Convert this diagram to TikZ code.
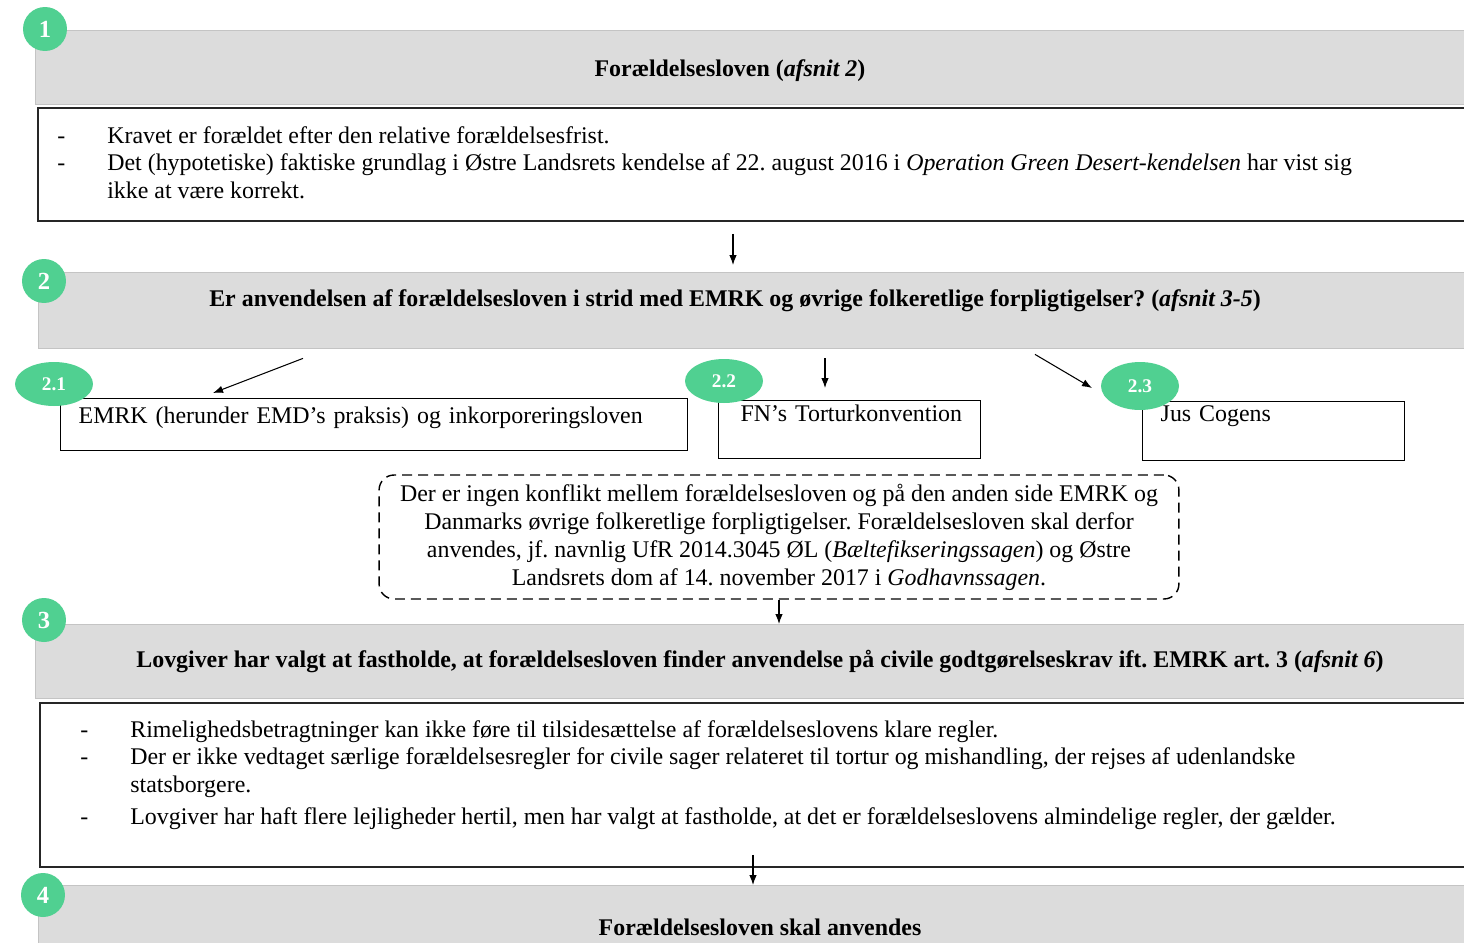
\documentclass[tikz,border=0pt]{standalone}
\usepackage{fontspec}
\setmainfont{Liberation Serif}
\frenchspacing
\usetikzlibrary{arrows.meta,positioning,shapes.geometric}
\definecolor{badgegreen}{RGB}{80,208,145}
\definecolor{headgray}{RGB}{220,220,220}
\definecolor{headline}{RGB}{196,196,196}

\begin{document}
\begin{tikzpicture}[x=0.02cm,y=-0.02cm,>=Latex,
  every node/.style={font=\fontsize{13.6}{15.9}\selectfont},
  head/.style={draw=headline,line width=0.8pt,fill=headgray,anchor=north west,inner sep=0pt},
  htitle/.style={font=\fontsize{13.6}{15.9}\selectfont\bfseries,inner sep=0pt},
  body/.style={draw=black!85,line width=1.1pt,fill=white,anchor=north west,inner sep=0pt},
  items/.style={anchor=base west,inner sep=0pt},
  subbox/.style={draw=black,line width=0.8pt,anchor=north west,align=left,inner xsep=0.36cm,inner ysep=0pt,text height=0.3cm},
  badge/.style={circle,fill=badgegreen,text=white,minimum size=0.88cm,inner sep=0pt,font=\fontsize{14}{14}\selectfont\bfseries},
  subbadge/.style={ellipse,fill=badgegreen,text=white,minimum width=1.56cm,minimum height=0.88cm,inner sep=0pt,font=\fontsize{11}{11}\selectfont\bfseries},
  arr/.style={-{Latex[length=0.2cm,width=0.15cm]},line width=0.6pt}]
\clip (0,0) rectangle (1464,943);

% 1
\node[head,minimum width=28.9cm,minimum height=1.48cm] (head1) at (35,30) {};
\node[htitle] (t1) at (730,71) {Forældelsesloven (\textit{afsnit 2})};
\node[body,minimum width=28.86cm,minimum height=2.26cm] (body1) at (37,107) {};
\node[items] (l1) at (57,143) {\begin{tabular}[t]{@{}p{1cm}@{}l@{}}
- & Kravet er forældet efter den relative forældelsesfrist.\\
- & Det (hypotetiske) faktiske grundlag i Østre Landsrets kendelse af 22. august 2016 i \textit{Operation Green Desert-kendelsen} har vist sig\\
  & ikke at være korrekt.
\end{tabular}};

% 2
\node[head,minimum width=28.84cm,minimum height=1.52cm] (head2) at (38,272) {};
\node[htitle] (t2) at (735,301) {Er anvendelsen af forældelsesloven i strid med EMRK og øvrige folkeretlige forpligtigelser? (\textit{afsnit 3-5})};

\node[subbox,text width=11.82cm,minimum height=1.04cm,text depth=0.34cm] (box21) at (60,398) {\mbox{EMRK (herunder EMD’s praksis) og inkorporeringsloven}};
\node[subbox,text width=4.36cm,inner xsep=0.44cm,minimum height=1.16cm,text depth=0.62cm] (box22) at (718,400) {\mbox{FN’s Torturkonvention}};
\node[subbox,text width=4.52cm,minimum height=1.18cm,text depth=0.68cm] (box23) at (1142,401) {\mbox{Jus Cogens}};

\node[draw=black,line width=0.8pt,dash pattern=on 0.2cm off 0.12cm,rounded corners=0.3cm,minimum width=16cm,minimum height=2.48cm,align=center,inner sep=0pt] (note) at (779,537) {Der er ingen konflikt mellem forældelsesloven og på den anden side EMRK og\\
Danmarks øvrige folkeretlige forpligtigelser. Forældelsesloven skal derfor\\
anvendes, jf. navnlig UfR 2014.3045 ØL (\textit{Bæltefikseringssagen}) og Østre\\
Landsrets dom af 14. november 2017 i \textit{Godhavnssagen}.};

% 3
\node[head,minimum width=28.9cm,minimum height=1.48cm] (head3) at (35,624) {};
\node[htitle] (t3) at (760,661) {Lovgiver har valgt at fastholde, at forældelsesloven finder anvendelse på civile godtgørelseskrav ift. EMRK art. 3 (\textit{afsnit 6})};
\node[body,minimum width=28.82cm,minimum height=3.28cm] (body3) at (39,702) {};
\node[items] (l3) at (80,737) {\begin{tabular}[t]{@{}p{1cm}@{}l@{}}
- & Rimelighedsbetragtninger kan ikke føre til tilsidesættelse af forældelseslovens klare regler.\\
- & Der er ikke vedtaget særlige forældelsesregler for civile sager relateret til tortur og mishandling, der rejses af udenlandske\\
  & statsborgere.\\[2pt]
- & Lovgiver har haft flere lejligheder hertil, men har valgt at fastholde, at det er forældelseslovens almindelige regler, der gælder.
\end{tabular}};

% 4
\node[head,minimum width=28.84cm,minimum height=1.6cm] (head4) at (38,885) {};
\node[htitle] (t4) at (760,927) {Forældelsesloven skal anvendes};

% badges
\node[badge] (n1) at (45,29) {1};
\node[badge] (n2) at (44,281) {2};
\node[subbadge] (n21) at (54,384) {2.1};
\node[subbadge] (n22) at (724,381) {2.2};
\node[subbadge,minimum height=0.96cm] (n23) at (1140,386) {2.3};
\node[badge] (n3) at (44,620) {3};
\node[badge] (n4) at (43,895) {4};

% arrows
\draw[arr,shorten <=0.24cm,shorten >=0.14cm] (733,0 |- body1.south) -- (733,0 |- head2.north);
\draw[arr] ([yshift=-0.18cm]303,0 |- head2.south) -- ([yshift=0.1cm]213,0 |- box21.north);
\draw[arr,shorten <=0.18cm,shorten >=0.24cm] (825,0 |- head2.south) -- (825,0 |- box22.north);
\draw[arr] ([yshift=-0.1cm]1035,0 |- head2.south) -- ([yshift=0.26cm]1092,0 |- box23.north);
\draw[arr] (note.south) -- (note.south |- head3.north);
\draw[arr,shorten <=-0.26cm] (753,0 |- body3.south) -- (753,0 |- head4.north);
\end{tikzpicture}
\end{document}
